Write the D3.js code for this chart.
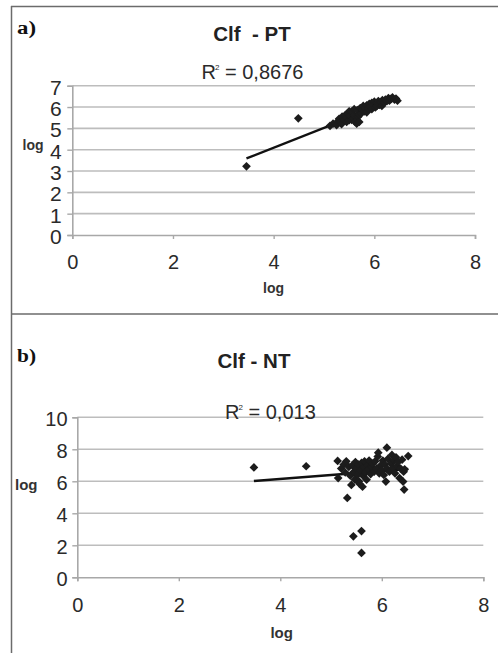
<!DOCTYPE html>
<html>
<head>
<meta charset="utf-8">
<script src="https://cdn.jsdelivr.net/npm/d3@7"></script>
<style>
  html, body { margin: 0; padding: 0; background: #fff; }
  svg { display: block; }
</style>
</head>
<body>
<svg id="fig" width="498" height="653"></svg>
<script>
// ---- Panel a: Clf vs PT (log values) ----
const ptX = [3.46, 4.49, 5.12, 5.18, 5.25, 5.28, 5.30, 5.33, 5.35, 5.36, 5.40, 5.42, 5.45, 5.45,
  5.48, 5.50, 5.50, 5.52, 5.55, 5.55, 5.58, 5.60, 5.60, 5.62, 5.65, 5.66, 5.68, 5.70, 5.70, 5.72,
  5.74, 5.76, 5.78, 5.80, 5.82, 5.85, 5.85, 5.88, 5.90, 5.92, 5.95, 5.95, 5.98, 6.00, 6.02, 6.05,
  6.05, 6.08, 6.10, 6.13, 6.15, 6.16, 6.20, 6.22, 6.25, 6.28, 6.30, 6.33, 6.36, 6.40, 6.43, 6.46];
const ptY = [3.22, 5.47, 5.12, 5.22, 5.15, 5.35, 5.45, 5.30, 5.20, 5.55, 5.40, 5.62, 5.50, 5.30,
  5.70, 5.38, 5.80, 5.58, 5.78, 5.40, 5.45, 5.62, 5.90, 5.30, 5.22, 5.85, 5.55, 5.30, 5.65, 5.95,
  5.70, 5.88, 6.05, 5.80, 5.95, 6.08, 5.75, 5.92, 6.15, 6.02, 6.20, 5.90, 6.10, 6.25, 5.98, 6.18,
  6.05, 6.28, 6.10, 6.22, 6.05, 6.32, 6.20, 6.35, 6.28, 6.42, 6.30, 6.38, 6.45, 6.35, 6.40, 6.30];
// linear trend: [slope, intercept]
const trendPT = [0.93, 0.37];
const r2PT = "0,8676";

// ---- Panel b: Clf vs NT (log values) ----
const ntX = [3.48, 4.51, 5.13, 5.14, 5.20, 5.25, 5.28, 5.30, 5.32, 5.35, 5.38, 5.40, 5.42, 5.44,
  5.45, 5.47, 5.48, 5.50, 5.52, 5.54, 5.55, 5.56, 5.58, 5.60, 5.60, 5.60, 5.62, 5.63, 5.65, 5.66,
  5.68, 5.70, 5.72, 5.74, 5.75, 5.78, 5.80, 5.82, 5.85, 5.87, 5.90, 5.92, 5.93, 5.95, 5.98, 6.00,
  6.02, 6.04, 6.06, 6.08, 6.10, 6.10, 6.12, 6.15, 6.18, 6.20, 6.22, 6.24, 6.26, 6.28, 6.30, 6.32,
  6.35, 6.37, 6.40, 6.42, 6.43, 6.44, 6.45, 6.52];
const ntY = [6.87, 6.94, 7.27, 6.20, 6.80, 7.05, 6.55, 7.25, 4.96, 6.90, 6.35, 5.77, 7.00, 2.56,
  6.60, 6.10, 7.20, 6.80, 6.40, 7.05, 6.00, 5.85, 6.70, 2.89, 1.52, 7.15, 5.66, 6.35, 6.90, 7.25,
  6.55, 6.10, 7.00, 6.75, 7.30, 6.45, 6.90, 7.10, 6.60, 7.25, 6.80, 7.55, 7.79, 6.50, 7.00, 6.70,
  7.30, 6.40, 7.05, 5.98, 8.10, 6.80, 7.40, 6.60, 7.10, 7.65, 6.85, 7.30, 6.50, 7.50, 6.95, 7.20,
  6.20, 6.80, 7.35, 5.98, 6.60, 5.48, 6.75, 7.58];
const trendNT = [0.245, 5.17];
const r2NT = "0,013";

// ---- axis ticks ----
const xTicks = [0, 2, 4, 6, 8];
const yTicksPT = [0, 1, 2, 3, 4, 5, 6, 7];
const yTicksNT = [0, 2, 4, 6, 8, 10];

const svg = d3.select("#fig");
svg.append("rect").attr("width", 498).attr("height", 653).attr("fill", "#fff");

// frame lines around the two panels
const frame = svg.append("g").attr("stroke", "#6b6b6b").attr("stroke-width", 1.5).attr("fill", "none");
frame.append("line").attr("x1", 11).attr("x2", 498).attr("y1", 6.5).attr("y2", 6.5);
frame.append("line").attr("x1", 11.5).attr("x2", 11.5).attr("y1", 6).attr("y2", 653);
frame.append("line").attr("x1", 11).attr("x2", 498).attr("y1", 314).attr("y2", 314);

const sansFont = "'Liberation Sans', Arial, sans-serif";
const serifFont = "'Liberation Serif', 'Times New Roman', serif";

function panel(cfg) {
  const g = svg.append("g");
  const x = d3.scaleLinear().domain([0, 8]).range(cfg.xRange);
  const y = d3.scaleLinear().domain([0, cfg.yMax]).range(cfg.yRange);

  // horizontal gridlines
  g.append("g").selectAll("line").data(cfg.yTicks.filter(d => d > 0)).join("line")
    .attr("x1", x(0)).attr("x2", x(8))
    .attr("y1", d => y(d)).attr("y2", d => y(d))
    .attr("stroke", "#bdbdbd").attr("stroke-width", 1.6);

  // y axis
  const ya = g.append("g").attr("transform", `translate(${x(0)},0)`)
    .call(d3.axisLeft(y).tickValues(cfg.yTicks).tickSize(5).tickPadding(cfg.yPad).tickFormat(d3.format("d")));
  // x axis
  const xa = g.append("g").attr("transform", `translate(0,${y(0)})`)
    .call(d3.axisBottom(x).tickValues(xTicks).tickSize(4).tickFormat(d3.format("d")));
  [ya, xa].forEach(a => {
    a.select(".domain").attr("stroke", "#a8a8a8").attr("stroke-width", 1.6);
    a.selectAll(".tick line").attr("stroke", "#a8a8a8").attr("stroke-width", 1.4);
    a.selectAll("text").attr("font-family", sansFont).attr("fill", "#2a2a2a");
  });
  ya.selectAll("text").attr("font-size", cfg.yFont).attr("dy", cfg.yDy);
  xa.selectAll("text").attr("font-size", 20).attr("y", 34.3).attr("dy", 0);

  // trend line
  const [m, b] = cfg.trend;
  const xs = d3.extent(cfg.xs);
  g.append("line")
    .attr("x1", x(xs[0])).attr("y1", y(m * xs[0] + b))
    .attr("x2", x(xs[1])).attr("y2", y(m * xs[1] + b))
    .attr("stroke", "#111").attr("stroke-width", 2.4);

  // diamond markers
  const diamond = d3.symbol(d3.symbolSquare, 38)();
  g.append("g").selectAll("path").data(d3.zip(cfg.xs, cfg.ys)).join("path")
    .attr("d", diamond)
    .attr("transform", d => `translate(${x(d[0])},${y(d[1])}) rotate(45)`)
    .attr("fill", "#1c1c1c");

  // panel letter
  g.append("text").attr("x", 17).attr("y", cfg.letterY)
    .attr("font-family", serifFont).attr("font-weight", "bold").attr("font-size", 18)
    .attr("textLength", 19).attr("lengthAdjust", "spacingAndGlyphs")
    .attr("fill", "#111").text(cfg.letter);

  // chart title
  g.append("text").attr("x", cfg.titleX).attr("y", cfg.titleY).attr("text-anchor", "middle")
    .attr("font-family", sansFont).attr("font-weight", "bold").attr("font-size", 20.5)
    .attr("fill", "#222").style("white-space", "pre").text(cfg.title);

  // R² annotation
  const r = g.append("text").attr("x", cfg.r2X).attr("y", cfg.r2Y)
    .attr("font-family", sansFont).attr("font-size", 20).attr("fill", "#2a2a2a");
  r.append("tspan").text("R");
  r.append("tspan").attr("font-size", 8).attr("dx", -1).attr("dy", -9).text("2");
  r.append("tspan").attr("dy", 9).text(" = " + cfg.r2);

  // axis titles
  g.append("text").attr("x", cfg.yLabX).attr("y", cfg.yLabY)
    .attr("font-family", sansFont).attr("font-weight", "bold").attr("font-size", cfg.labFont)
    .attr("fill", "#333").text("log");
  g.append("text").attr("x", cfg.xLabX).attr("y", cfg.xLabY).attr("text-anchor", "middle")
    .attr("font-family", sansFont).attr("font-weight", "bold").attr("font-size", cfg.labFont)
    .attr("fill", "#333").text("log");
}

panel({
  xs: ptX, ys: ptY, trend: trendPT, r2: r2PT, yTicks: yTicksPT, yMax: 7,
  xRange: [72.3, 475], yRange: [235, 85.7], yPad: 5.5, yFont: 21, yDy: "0.41em",
  letter: "a)", letterY: 34, title: "Clf  - PT", titleX: 252, titleY: 40.7,
  r2X: 201.5, r2Y: 79.3, yLabX: 22.5, yLabY: 150, xLabX: 273.5, xLabY: 293, labFont: 14
});

panel({
  xs: ntX, ys: ntY, trend: trendNT, r2: r2NT, yTicks: yTicksNT, yMax: 10,
  xRange: [77.3, 483.3], yRange: [577.3, 417.3], yPad: 4.8, yFont: 20, yDy: "0.43em",
  letter: "b)", letterY: 362, title: "Clf - NT", titleX: 254, titleY: 368,
  r2X: 225, r2Y: 419.3, yLabX: 15, yLabY: 490, xLabX: 281.7, xLabY: 638, labFont: 15
});
</script>
</body>
</html>
